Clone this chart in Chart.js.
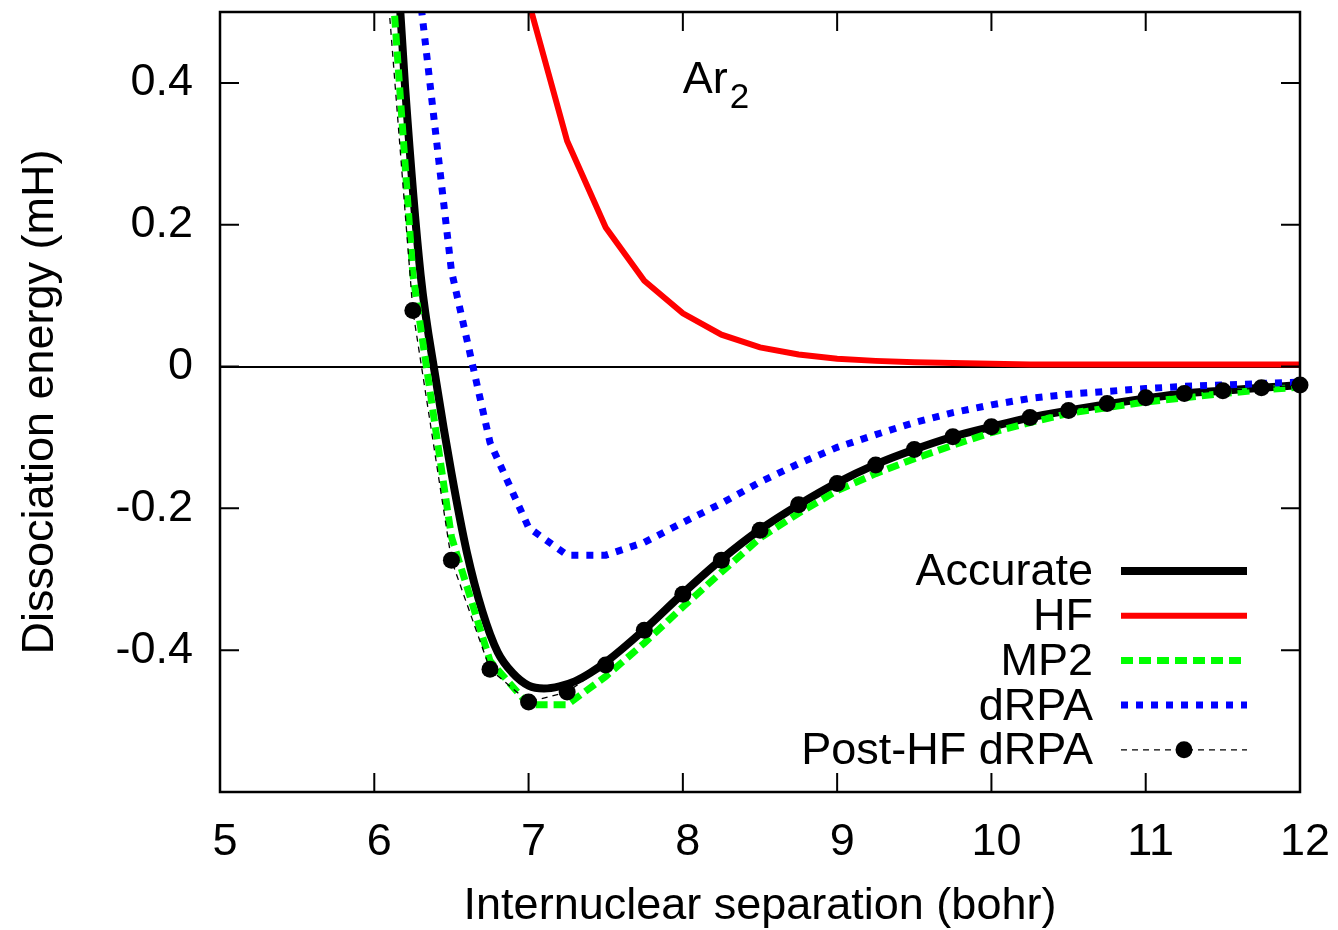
<!DOCTYPE html>
<html lang="en">
<head>
<meta charset="UTF-8">
<title>Ar2 dissociation curves</title>
<script src="https://cdn.jsdelivr.net/npm/chart.js"></script>
<style>
  body { margin: 0; background: #fff; }
  #chart { display: block; }
</style>
</head>
<body>
<canvas id="chart" width="1338" height="930"></canvas>
<script>
// internuclear separations (bohr), 0.25 grid
var gridX = [6.0, 6.25, 6.5, 6.75, 7.0, 7.25, 7.5, 7.75, 8.0, 8.25, 8.5, 8.75, 9.0,
             9.25, 9.5, 9.75, 10.0, 10.25, 10.5, 10.75, 11.0, 11.25, 11.5, 11.75, 12.0];

// accurate curve is on a finer grid near the well
var accurateX = [6.1, 6.2, 6.3, 6.4, 6.5, 6.6, 6.7, 6.8, 6.9, 7.0, 7.1, 7.2, 7.3, 7.4, 7.5,
                 7.75, 8.0, 8.25, 8.5, 8.75, 9.0, 9.25, 9.5, 9.75, 10.0, 10.25, 10.5, 10.75,
                 11.0, 11.25, 11.5, 11.75, 12.0];
var accurateY = [0.74, 0.393, 0.130, -0.020, -0.150, -0.262, -0.345, -0.403, -0.433, -0.450,
                 -0.454, -0.451, -0.444, -0.432, -0.417, -0.371, -0.320, -0.272, -0.230, -0.195,
                 -0.164, -0.138, -0.117, -0.099, -0.085, -0.072, -0.062, -0.053, -0.045, -0.038,
                 -0.034, -0.030, -0.026];

// HF starts at 7.0 bohr
var hfX = gridX.slice(4);
var hfY = [0.515, 0.318, 0.196, 0.121, 0.075, 0.045, 0.027, 0.017, 0.011, 0.008, 0.006,
           0.005, 0.004, 0.003, 0.003, 0.003, 0.003, 0.003, 0.003, 0.003, 0.003];

var mp2Y = [0.90, 0.13, -0.24, -0.415, -0.477, -0.477, -0.437, -0.390, -0.339, -0.290, -0.242,
            -0.207, -0.175, -0.151, -0.130, -0.111, -0.093, -0.079, -0.066, -0.058, -0.050,
            -0.044, -0.038, -0.033, -0.029];

// dRPA starts at 6.25 bohr
var drpaX = gridX.slice(1);
var drpaY = [0.61, 0.135, -0.107, -0.227, -0.266, -0.266, -0.248, -0.220, -0.193, -0.163,
             -0.137, -0.114, -0.096, -0.079, -0.065, -0.054, -0.045, -0.039, -0.035, -0.031,
             -0.028, -0.026, -0.024, -0.022];

var postY = [0.77, 0.079, -0.273, -0.427, -0.473, -0.459, -0.421, -0.372, -0.321, -0.273, -0.231,
             -0.195, -0.165, -0.139, -0.117, -0.099, -0.085, -0.072, -0.062, -0.052, -0.044,
             -0.038, -0.034, -0.030, -0.026];

var seriesNames = ['Accurate', 'HF', 'MP2', 'dRPA', 'Post-HF dRPA'];

var FONT = "'Liberation Sans', Arial, Helvetica, sans-serif";
var FS = 45;
Chart.defaults.font.family = FONT;
Chart.defaults.color = '#000';

function pts(xs, ys) {
  return xs.map(function (x, i) { return { x: x, y: ys[i] }; });
}

// box border with inward ticks on all four sides (gnuplot style)
var framePlugin = {
  id: 'frame',
  afterDatasetsDraw: function (chart) {
    var ctx = chart.ctx, a = chart.chartArea;
    var xs = chart.scales.x, ys = chart.scales.y;
    var len = 19;
    ctx.save();
    ctx.strokeStyle = '#000';
    ctx.lineWidth = 2;
    ctx.beginPath();
    xs.ticks.forEach(function (t) {
      var px = xs.getPixelForValue(t.value);
      ctx.moveTo(px, a.bottom); ctx.lineTo(px, a.bottom - len);
      ctx.moveTo(px, a.top); ctx.lineTo(px, a.top + len);
    });
    ys.ticks.forEach(function (t) {
      var py = ys.getPixelForValue(t.value);
      ctx.moveTo(a.left, py); ctx.lineTo(a.left + len, py);
      ctx.moveTo(a.right, py); ctx.lineTo(a.right - len, py);
    });
    ctx.stroke();
    ctx.lineWidth = 2.5;
    ctx.strokeRect(a.left, a.top, a.right - a.left, a.bottom - a.top);
    ctx.restore();
  }
};

// legend inside the plot, text right-aligned left of the line sample
var keyPlugin = {
  id: 'key',
  afterDraw: function (chart) {
    var ctx = chart.ctx, a = chart.chartArea;
    var textRight = a.right - 207, x1 = a.right - 179, x2 = a.right - 53;
    var y0 = a.bottom - 221, step = 44.7;
    ctx.save();
    chart.data.datasets.forEach(function (ds, i) {
      var y = y0 + i * step;
      ctx.font = FS + 'px ' + FONT;
      ctx.fillStyle = '#000';
      ctx.textAlign = 'right';
      ctx.textBaseline = 'middle';
      ctx.fillText(ds.label, textRight, y + 2);
      ctx.strokeStyle = ds.borderColor;
      ctx.lineWidth = ds.borderWidth;
      ctx.setLineDash(ds.borderDash || []);
      ctx.beginPath();
      ctx.moveTo(x1, y); ctx.lineTo(x2, y);
      ctx.stroke();
      if (ds.pointRadius) {
        ctx.setLineDash([]);
        ctx.fillStyle = ds.pointBackgroundColor;
        ctx.beginPath();
        ctx.arc((x1 + x2) / 2, y, ds.pointRadius, 0, Math.PI * 2);
        ctx.fill();
      }
    });

    // molecule label
    var lx = chart.scales.x.getPixelForValue(8.0);
    var ly = chart.scales.y.getPixelForValue(0.4) + 10;
    ctx.setLineDash([]);
    ctx.fillStyle = '#000';
    ctx.textAlign = 'left';
    ctx.textBaseline = 'alphabetic';
    ctx.font = FS + 'px ' + FONT;
    ctx.fillText('Ar', lx, ly);
    var w = ctx.measureText('Ar').width;
    ctx.font = '35px ' + FONT;
    ctx.fillText('2', lx + w + 2, ly + 15);
    ctx.restore();
  }
};

new Chart(document.getElementById('chart'), {
  type: 'line',
  data: {
    datasets: [
      {
        label: seriesNames[0], data: pts(accurateX, accurateY),
        borderColor: '#000', borderWidth: 8, pointRadius: 0,
        cubicInterpolationMode: 'monotone', borderJoinStyle: 'round', order: 5
      },
      {
        label: seriesNames[1], data: pts(hfX, hfY),
        borderColor: '#ff0000', borderWidth: 6, pointRadius: 0, order: 4
      },
      {
        label: seriesNames[2], data: pts(gridX, mp2Y),
        borderColor: '#00ff00', borderWidth: 7, borderDash: [12, 6], pointRadius: 0, order: 3
      },
      {
        label: seriesNames[3], data: pts(drpaX, drpaY),
        borderColor: '#0000ff', borderWidth: 7, borderDash: [7, 8], pointRadius: 0, order: 2
      },
      {
        label: seriesNames[4], data: pts(gridX, postY),
        borderColor: '#000', borderWidth: 1.3, borderDash: [6, 5],
        pointRadius: 8.5, pointBackgroundColor: '#000', pointBorderWidth: 0,
        clip: { left: 12, right: 12, top: 0, bottom: 0 }, order: 1
      }
    ]
  },
  options: {
    responsive: false,
    animation: false,
    devicePixelRatio: 1,
    datasets: { line: { clip: 0, tension: 0 } },
    layout: { padding: { top: 12, right: 38, left: 0, bottom: 0 } },
    plugins: { legend: { display: false }, tooltip: { enabled: false } },
    scales: {
      x: {
        type: 'linear', min: 5, max: 12,
        border: { display: false },
        grid: { display: false, drawTicks: false },
        ticks: { stepSize: 1, padding: 24, labelOffset: 5, font: { size: FS }, color: '#000' },
        title: { display: true, text: 'Internuclear separation (bohr)', font: { size: FS }, color: '#000', padding: { top: 0, bottom: -4 } },
        afterFit: function (s) { s.height = 138; s.paddingLeft = 0; s.paddingRight = 0; }
      },
      y: {
        type: 'linear', min: -0.6, max: 0.5,
        border: { display: false },
        grid: {
          drawTicks: false,
          lineWidth: 2,
          color: function (c) { return (c.tick && Math.abs(c.tick.value) < 1e-9) ? '#000' : 'rgba(0,0,0,0)'; }
        },
        ticks: {
          stepSize: 0.2, includeBounds: false, padding: 27, font: { size: FS }, color: '#000',
          callback: function (v) { return String(Number(v.toFixed(1))); }
        },
        title: { display: true, text: 'Dissociation energy (mH)', font: { size: FS }, color: '#000', padding: { top: 14, bottom: 0 } },
        afterFit: function (s) { s.width = 220; s.paddingTop = 0; s.paddingBottom = 0; }
      }
    }
  },
  plugins: [framePlugin, keyPlugin]
});
</script>
</body>
</html>
